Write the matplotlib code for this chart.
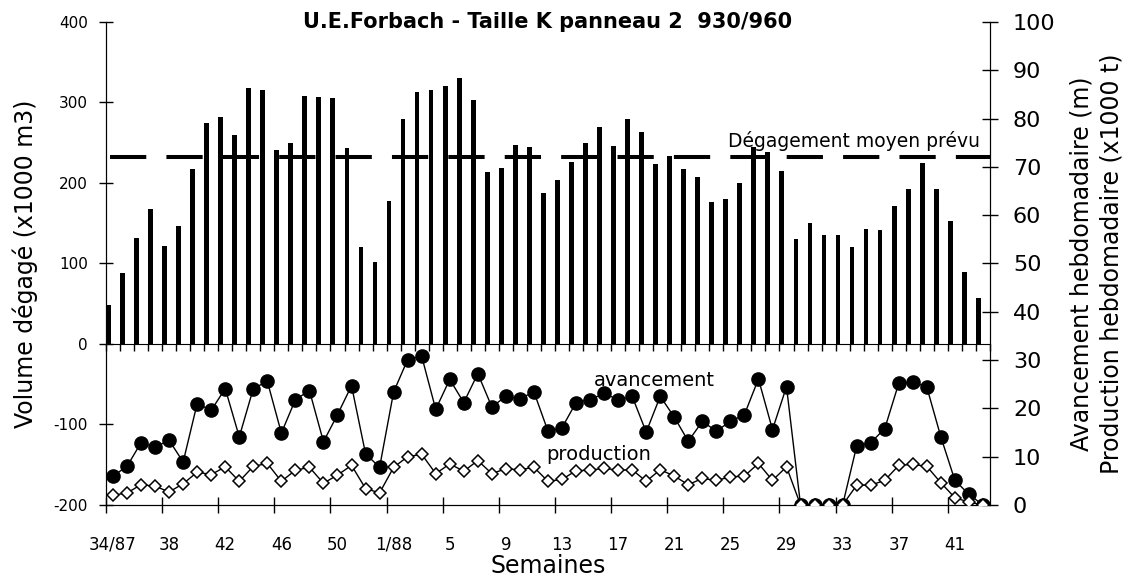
import numpy as np
import matplotlib.pyplot as plt
from matplotlib.ticker import FixedLocator, NullFormatter

plt.rcParams['font.family'] = ['DejaVu Sans']
plt.rcParams['axes.unicode_minus'] = False

# 1987 has 53 weeks
weeks = (['34/87'] + [str(w) for w in range(35, 54)]
         + ['1/88'] + [str(w) for w in range(2, 44)])

# volume dégagé (x1000 m3), one bar per week
volume = [48, 88, 132, 168, 122, 146, 217, 275, 282, 260,
          318, 316, 241, 250, 308, 307, 306, 243, 121, 102,
          178, 279, 313, 316, 320, 330, 303, 214, 218, 247,
          245, 187, 204, 226, 250, 269, 246, 279, 263, 224,
          233, 217, 207, 177, 180, 200, 245, 239, 215, 130,
          150, 135, 135, 121, 143, 142, 172, 193, 225, 192,
          153, 90, 57]

# avancement hebdomadaire (m)
avancement = [6.0, 8.0, 12.9, 12.0, 13.4, 8.9, 21.0, 19.6, 24.1, 14.1,
              24.1, 25.6, 14.9, 21.8, 23.7, 13.1, 18.7, 24.7, 10.6, 7.8,
              23.4, 30.1, 30.8, 19.8, 26.0, 21.2, 27.2, 20.3, 22.5, 22.0,
              23.4, 15.3, 16.0, 21.2, 21.8, 23.1, 21.8, 22.5, 15.1, 22.5,
              18.2, 13.2, 17.3, 15.3, 17.3, 18.7, 26.1, 15.6, 24.5, 0,
              0, 0, 0, 12.2, 12.9, 15.8, 25.2, 25.5, 24.4, 14.1,
              5.1, 2.2, 0]

# production hebdomadaire (x1000 t)
production = [2.0, 2.5, 4.2, 3.9, 2.7, 4.4, 6.8, 6.3, 7.9, 4.9,
              8.0, 8.6, 4.9, 7.2, 7.8, 4.5, 6.2, 8.2, 3.4, 2.5,
              7.8, 10.0, 10.5, 6.5, 8.5, 7.0, 9.2, 6.5, 7.5, 7.3,
              7.8, 4.9, 5.3, 7.1, 7.2, 7.6, 7.2, 7.3, 4.9, 7.3,
              6.0, 4.2, 5.5, 5.1, 5.8, 6.0, 8.6, 5.1, 7.9, 0,
              0, 0, 0, 4.1, 4.1, 5.1, 8.2, 8.4, 8.0, 4.6,
              1.5, 0.6, 0]

planned = 232  # dégagement moyen prévu

x = np.arange(len(weeks))
n = len(weeks)

fig = plt.figure(figsize=(11.31, 5.77), dpi=100)
ax = fig.add_axes([0.0937, 0.1248, 0.7816, 0.8371])

ax.bar(x - 0.33, volume, width=0.34, color='black', zorder=2)
ax.plot([-0.5, n - 0.5], [planned, planned], color='black', lw=2.9,
        linestyle=(13, (9, 5)), solid_capstyle='butt', zorder=3)

ax.set_xlim(-0.5, n - 0.5)
ax.set_ylim(-200, 400)
ax.set_yticks([-200, -100, 0, 100, 200, 300, 400])
ax.tick_params(axis='y', direction='inout', length=10, width=1,
               labelsize=11, pad=8)
ax.spines['top'].set_visible(False)

# category axis: ticks on boundaries, labels on centres
ax.xaxis.set_major_locator(FixedLocator(np.arange(-0.5, n - 1, 4)))
ax.xaxis.set_major_formatter(NullFormatter())
ax.xaxis.set_minor_locator(FixedLocator(x[::4]))
ax.set_xticklabels([weeks[i] for i in x[::4]], minor=True)
ax.tick_params(axis='x', which='major', direction='inout', length=11, width=1)
ax.tick_params(axis='x', which='minor', length=0, pad=22, labelsize=12)

# zero line with small ticks between weeks
sec = ax.secondary_xaxis(1 / 3)
sec.set_xticks(np.arange(-0.5, n, 1))
sec.tick_params(direction='out', length=5, width=1,
                labelbottom=False, labeltop=False)

ax.set_ylabel('Volume dégagé (x1000 m3)', fontsize=17, labelpad=11)
ax.set_xlabel('Semaines', fontsize=17, labelpad=0)

ax2 = ax.twinx()
ax2.set_ylim(0, 100)
ax2.set_yticks(np.arange(0, 101, 10))
ax2.tick_params(axis='y', direction='inout', length=11, width=1,
                labelsize=16, pad=11)
ax2.spines['top'].set_visible(False)

ax2.plot(x, avancement, color='black', lw=1, marker='o', ms=9.5,
         mfc='black', mec='black', zorder=3)
ax2.plot(x, production, color='black', lw=1, marker='D', ms=6.2,
         mfc='white', mec='black', mew=1.1, zorder=4)

ax2.set_ylabel('Avancement hebdomadaire (m)\nProduction hebdomadaire (x1000 t)',
               fontsize=17, labelpad=10, linespacing=1.3)

ax.text(0.5, 1.0, 'U.E.Forbach - Taille K panneau 2  930/960',
        transform=ax.transAxes, ha='center', va='center',
        fontsize=15, fontweight='bold')
ax.text(n - 1.2, planned + 8, 'Dégagement moyen prévu', ha='right',
        va='bottom', fontsize=13.5)
ax.text(38.6, -45, 'avancement', ha='center', va='center', fontsize=14)
ax.text(34.6, -137, 'production', ha='center', va='center', fontsize=14)

fig.savefig('out.png', dpi=100)
